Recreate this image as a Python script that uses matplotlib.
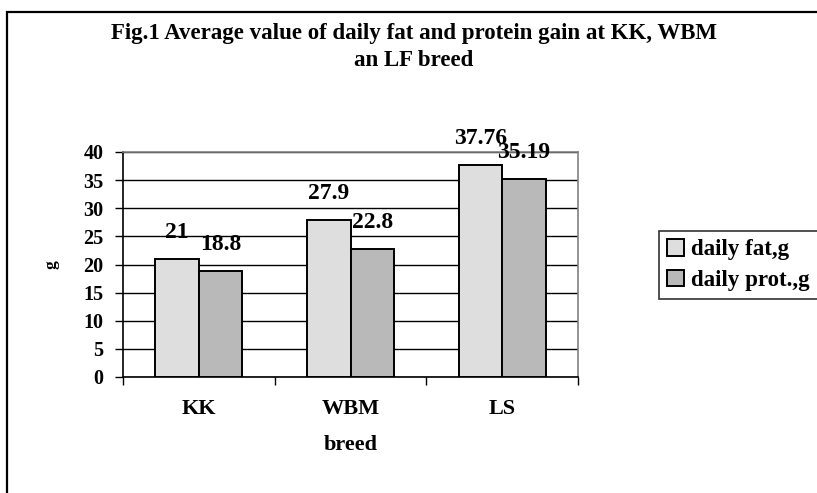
import matplotlib.pyplot as plt
import numpy as np
from matplotlib.patches import Rectangle

plt.rcParams['font.family'] = ['Liberation Serif', 'DejaVu Serif']
plt.rcParams['font.weight'] = 'bold'

# data
breeds = ["KK", "WBM", "LS"]
daily_fat = [21, 27.9, 37.76]
daily_prot = [18.8, 22.8, 35.19]
fat_labels = ["21", "27.9", "37.76"]
prot_labels = ["18.8", "22.8", "35.19"]
yticks = [0, 5, 10, 15, 20, 25, 30, 35, 40]

W, H = 817, 493
fig = plt.figure(figsize=(W / 100, H / 100), dpi=100)
fig.patch.set_facecolor("white")

# outer chart frame (only left and top edges visible in the picture)
fig.patches.append(Rectangle((7 / W, -0.1), 1.2, (H - 12) / H + 0.1,
                             transform=fig.transFigure, fill=False,
                             edgecolor="black", linewidth=1.6))

ax = fig.add_axes([123 / W, 1 - 377 / H, (578 - 123) / W, (377 - 152) / H])

x = np.arange(len(breeds))
w = 0.286
b1 = ax.bar(x - w / 2, daily_fat, w, color="#dedede", edgecolor="black",
            linewidth=1.4, label="daily fat,g", zorder=3)
b2 = ax.bar(x + w / 2, daily_prot, w, color="#b9b9b9", edgecolor="black",
            linewidth=1.4, label="daily prot.,g", zorder=3)

for rect, t in zip(b1, fat_labels):
    ax.annotate(t, (rect.get_x() + rect.get_width() / 2, rect.get_height()),
                xytext=(0, 15), textcoords="offset points", ha="center",
                va="baseline", fontsize=17, fontweight="bold")
for rect, t in zip(b2, prot_labels):
    ax.annotate(t, (rect.get_x() + rect.get_width() / 2, rect.get_height()),
                xytext=(0, 15), textcoords="offset points", ha="center",
                va="baseline", fontsize=17, fontweight="bold")

ax.set_xlim(-0.5, 2.5)
ax.set_ylim(0, 40)
ax.set_yticks(yticks)
ax.set_yticklabels([str(v) for v in yticks], fontsize=14.5, fontweight="bold")
ax.tick_params(axis="y", length=6, width=1, pad=8, direction="out")

ax.set_xticks(x)
ax.set_xticklabels(breeds, fontsize=16, fontweight="bold")
ax.tick_params(axis="x", which="major", length=0, pad=15.5)
ax.set_xticks([-0.5, 0.5, 1.5, 2.5], minor=True)
ax.tick_params(axis="x", which="minor", length=6, width=1, direction="out")

ax.yaxis.grid(True, color="black", linewidth=1)
ax.set_axisbelow(True)

ax.spines["left"].set_color("black")
ax.spines["bottom"].set_color("black")
ax.spines["left"].set_linewidth(1.2)
ax.spines["bottom"].set_linewidth(1.2)
ax.spines["top"].set_color("#808080")
ax.spines["right"].set_color("#808080")
ax.spines["top"].set_linewidth(1.2)
ax.spines["right"].set_linewidth(1.2)

ax.set_xlabel("breed", fontsize=16, fontweight="bold", labelpad=12)
fig.text(52 / W, 1 - 265 / H, "g", rotation=90, fontsize=12.5,
         fontweight="bold", ha="center", va="center")

fig.text(414 / W, 1 - 33 / H,
         "Fig.1 Average value of daily fat and protein gain at KK, WBM",
         fontsize=16.5, fontweight="bold", ha="center", va="center")
fig.text(414 / W, 1 - 60 / H, "an LF breed",
         fontsize=16.5, fontweight="bold", ha="center", va="center")

leg = fig.legend(handles=[b1, b2], loc="upper left",
                 bbox_to_anchor=(659 / W, 1 - 231 / H),
                 prop={"size": 16.5, "weight": "bold"}, frameon=True,
                 fancybox=False, edgecolor="black", handlelength=0.75,
                 handleheight=0.75, handletextpad=0.3, borderpad=0.35,
                 labelspacing=0.4, borderaxespad=0)
leg.get_frame().set_linewidth(1.2)

fig.savefig("out.png", dpi=100)
